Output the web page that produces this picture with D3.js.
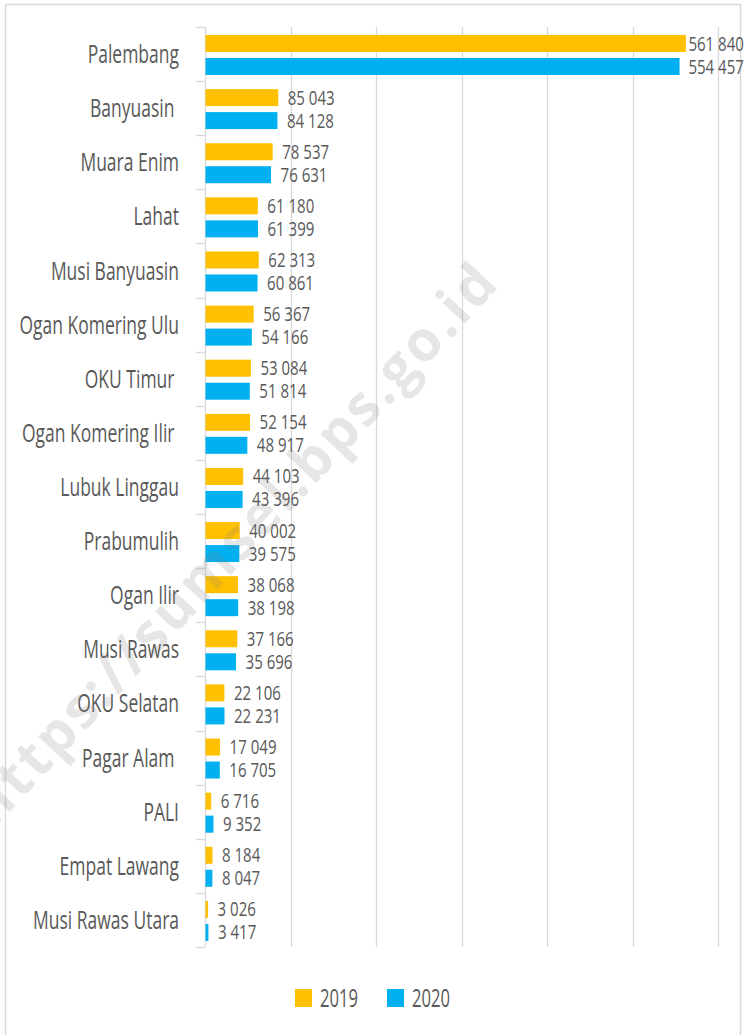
<!DOCTYPE html>
<html>
<head>
<meta charset="utf-8">
<script src="https://cdn.jsdelivr.net/npm/d3@7"></script>
<style>
  html, body { margin: 0; padding: 0; background: #fff; }
  svg { display: block; }
  text { font-family: "Open Sans", "Liberation Sans", sans-serif; fill: #595959; white-space: pre; }
</style>
</head>
<body>
<svg id="chart" width="748" height="1035"></svg>
<script>
const categories = ["Palembang", "Banyuasin ", "Muara Enim", "Lahat", "Musi Banyuasin",
  "Ogan Komering Ulu", "OKU Timur ", "Ogan Komering Ilir ", "Lubuk Linggau", "Prabumulih",
  "Ogan Ilir", "Musi Rawas", "OKU Selatan", "Pagar Alam ", "PALI", "Empat Lawang", "Musi Rawas Utara"];
const values2019 = [561840, 85043, 78537, 61180, 62313, 56367, 53084, 52154, 44103, 40002,
  38068, 37166, 22106, 17049, 6716, 8184, 3026];
const values2020 = [554457, 84128, 76631, 61399, 60861, 54166, 51814, 48917, 43396, 39575,
  38198, 35696, 22231, 16705, 9352, 8047, 3417];
const seriesNames = ["2019", "2020"];
const xTicks = [0, 100000, 200000, 300000, 400000, 500000, 600000];
const watermark = "https://sumsel.bps.go.id";

const colors = ["#FFC000", "#00B0F0"];
const svg = d3.select("#chart");

// helper: horizontal squeeze factor so that a reference string reaches a target width
function squeeze(str, size, target) {
  const t = svg.append("text").attr("font-size", size).text(str);
  const w = t.node().getComputedTextLength();
  t.remove();
  return target / w;
}

// frame
svg.append("rect").attr("x", 5.5).attr("y", 4.5).attr("width", 735).attr("height", 1040)
  .attr("fill", "#fff").attr("stroke", "#d9d9d9").attr("stroke-width", 1.5);

const x = d3.scaleLinear().domain([0, 600000]).range([205, 718]);
const y = d3.scaleBand().domain(categories).range([27, 947]);
const bw = y.bandwidth();

// gridlines
svg.append("g").selectAll("line").data(xTicks.slice(1)).join("line")
  .attr("x1", d => Math.round(x(d)) + 0.5).attr("x2", d => Math.round(x(d)) + 0.5)
  .attr("y1", 27).attr("y2", 947)
  .attr("stroke", "#d9d9d9").attr("stroke-width", 1.3);

// category axis
const yAxis = svg.append("g");
yAxis.append("line").attr("x1", 205.5).attr("x2", 205.5).attr("y1", 27).attr("y2", 947)
  .attr("stroke", "#d9d9d9").attr("stroke-width", 1.3);
const bounds = categories.map(c => y(c)).concat([y(categories[categories.length - 1]) + bw]);
yAxis.selectAll("line.tick").data(bounds).join("line").attr("class", "tick")
  .attr("x1", 196).attr("x2", 205).attr("y1", d => Math.round(d) + 0.5).attr("y2", d => Math.round(d) + 0.5)
  .attr("stroke", "#d9d9d9").attr("stroke-width", 1.3);

const catSize = 25;
const catK = squeeze("Musi Rawas Utara", catSize, 146);
yAxis.selectAll("text.cat").data(categories).join("text").attr("class", "cat")
  .attr("transform", d => `translate(179,${y(d) + bw / 2 + 9}) scale(${catK},1)`)
  .attr("text-anchor", "end")
  .attr("font-size", catSize)
  .text(d => d);

// bars
const series = [values2019, values2020];
const barH = 17;
const offsets = [8, 31];
const fmt = v => d3.format(",")(v).replace(/,/g, " ");
const numSize = 20;
const numK = squeeze("85 043", numSize, 47);

series.forEach((vals, si) => {
  const g = svg.append("g");
  g.selectAll("rect").data(categories).join("rect")
    .attr("x", x(0) + 0.5)
    .attr("y", d => y(d) + offsets[si])
    .attr("width", (d, i) => x(vals[i]) - x(0))
    .attr("height", barH)
    .attr("fill", colors[si]);
  g.selectAll("text").data(categories).join("text")
    .attr("font-size", numSize)
    .text((d, i) => fmt(vals[i]))
    .each(function (d, i) {
      const w = this.getComputedTextLength() * numK;
      const xx = Math.min(x(vals[i]) + 10, 744 - w);
      const yy = y(d) + offsets[si] + barH / 2 + 7;
      d3.select(this).attr("transform", `translate(${xx},${yy}) scale(${numK},1)`);
    });
});

// legend
const legend = svg.append("g");
const legX = [295, 387];
const legSize = 26;
const legK = squeeze("2019", legSize, 38);
seriesNames.forEach((n, i) => {
  legend.append("rect").attr("x", legX[i]).attr("y", 989).attr("width", 17).attr("height", 18)
    .attr("fill", colors[i]);
  legend.append("text").attr("transform", `translate(${legX[i] + 25},1007) scale(${legK},1)`)
    .attr("font-size", legSize).text(n);
});

// watermark
svg.append("text")
  .attr("transform", "translate(502,284) rotate(-47)")
  .attr("text-anchor", "end")
  .style("font-family", "'Open Sans', 'DejaVu Sans', sans-serif")
  .style("font-weight", 700)
  .style("fill", "#808080")
  .style("fill-opacity", 0.2)
  .style("letter-spacing", "3px")
  .style("pointer-events", "none")
  .attr("font-size", 56)
  .text(watermark);
</script>
</body>
</html>
